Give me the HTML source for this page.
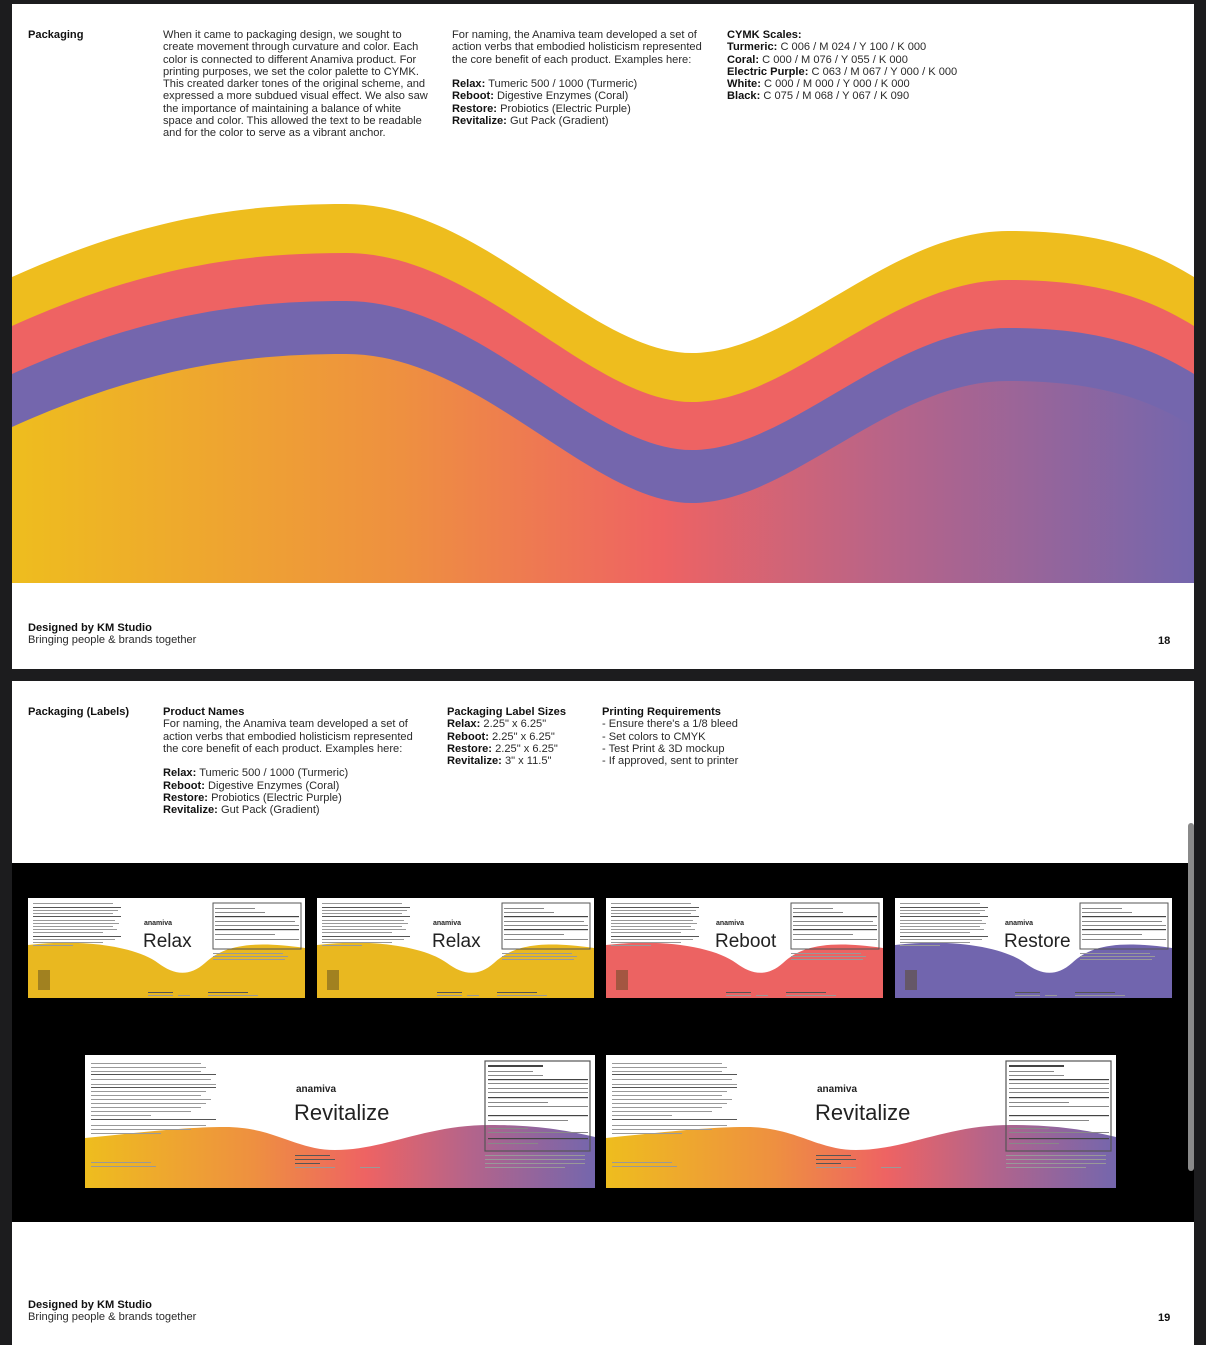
<!DOCTYPE html>
<html><head><meta charset="utf-8">
<style>
html,body{margin:0;padding:0;}
body{width:1206px;height:1345px;background:#1c1c1e;position:relative;overflow:hidden;font-family:"Liberation Sans",Arial,sans-serif;color:#222;}
.page{position:absolute;left:12px;width:1182px;background:#fff;}
.t{position:absolute;font-size:11.1px;line-height:12.3px;color:#2a2a2a;white-space:nowrap;}
.t b{color:#111;}
</style></head><body>
<svg width="0" height="0" style="position:absolute">
<defs>
<linearGradient id="g1" x1="0" x2="1" y1="0" y2="0">
<stop offset="0" stop-color="#eebd1e"/><stop offset="0.33" stop-color="#ee9040"/><stop offset="0.55" stop-color="#ee6363"/><stop offset="0.75" stop-color="#b5648a"/><stop offset="1" stop-color="#7466ad"/>
</linearGradient>
<g id="small">
<rect x="0" y="0" width="277" height="100" fill="#fff"/>
<path d="M0 47 C60 40,110 50,130 65 C145 76,160 80,177 65 C195 48,222 42,277 50 L277 100 L0 100Z" fill="currentColor"/>
<g fill="#999">
<rect x="5" y="5" width="80" height="1"/><rect x="5" y="9" width="88" height="1" fill="#555"/>
<rect x="5" y="12" width="85" height="1"/><rect x="5" y="15" width="80" height="1"/><rect x="5" y="18" width="88" height="1" fill="#555"/>
<rect x="5" y="22" width="82" height="1"/><rect x="5" y="25" width="86" height="1"/><rect x="5" y="28" width="80" height="1"/><rect x="5" y="31" width="84" height="1"/><rect x="5" y="34" width="70" height="1"/>
<rect x="5" y="38" width="88" height="1" fill="#555"/><rect x="5" y="41" width="82" height="1"/><rect x="5" y="44" width="70" height="1"/><rect x="5" y="47" width="40" height="1"/>
<rect x="185" y="55" width="70" height="1"/><rect x="185" y="58" width="75" height="1"/><rect x="185" y="61" width="72" height="1"/>
<rect x="180" y="97" width="50" height="1"/><rect x="120" y="94" width="25" height="1" fill="#555"/><rect x="120" y="97" width="25" height="1"/><rect x="150" y="97" width="12" height="1"/><rect x="180" y="94" width="40" height="1" fill="#555"/>
</g>
<rect x="185" y="5" width="88" height="46" fill="none" stroke="#555" stroke-width="1"/>
<g fill="#888"><rect x="187" y="10" width="40" height="1"/><rect x="187" y="14" width="50" height="1"/><rect x="187" y="18" width="84" height="1.2" fill="#444"/><rect x="187" y="23" width="80" height="1"/><rect x="187" y="27" width="84" height="1"/><rect x="187" y="31" width="84" height="1.2" fill="#444"/><rect x="187" y="36" width="60" height="1"/><rect x="187" y="41" width="84" height="1"/></g>
<rect x="10" y="72" width="12" height="20" fill="#5a4a20" opacity="0.5"/>
</g>
<g id="big">
<rect x="0" y="0" width="510" height="133" fill="#fff"/>
<path d="M0 83 C50 78,100 72,140 72 C190 72,210 95,250 95 C300 95,340 70,405 70 C450 70,480 75,510 82 L510 133 L0 133Z" fill="url(#g1)"/>
<g fill="#999">
<rect x="6" y="8" width="110" height="1"/><rect x="6" y="12" width="115" height="1"/><rect x="6" y="16" width="110" height="1"/><rect x="6" y="19" width="125" height="1" fill="#555"/>
<rect x="6" y="24" width="120" height="1"/><rect x="6" y="29" width="125" height="1"/><rect x="6" y="32" width="125" height="1" fill="#555"/>
<rect x="6" y="36" width="115" height="1"/><rect x="6" y="40" width="110" height="1"/><rect x="6" y="44" width="120" height="1"/><rect x="6" y="48" width="115" height="1"/><rect x="6" y="52" width="110" height="1"/><rect x="6" y="56" width="100" height="1"/><rect x="6" y="60" width="60" height="1"/>
<rect x="6" y="64" width="125" height="1" fill="#555"/><rect x="6" y="70" width="115" height="1"/><rect x="6" y="74" width="100" height="1"/><rect x="6" y="78" width="70" height="1"/>
<rect x="6" y="107" width="60" height="1"/><rect x="6" y="111" width="65" height="1"/>
<rect x="210" y="100" width="35" height="1" fill="#555"/><rect x="210" y="104" width="40" height="1" fill="#555"/><rect x="210" y="108" width="25" height="1" fill="#555"/><rect x="210" y="112" width="40" height="1"/><rect x="275" y="112" width="20" height="1"/>
<rect x="400" y="100" width="100" height="1"/><rect x="400" y="104" width="100" height="1"/><rect x="400" y="108" width="100" height="1"/><rect x="400" y="112" width="80" height="1"/>
</g>
<rect x="400" y="6" width="105" height="90" fill="none" stroke="#555" stroke-width="1.2"/>
<g fill="#888"><rect x="403" y="10" width="55" height="2" fill="#444"/><rect x="403" y="16" width="45" height="1"/><rect x="403" y="20" width="55" height="1"/><rect x="403" y="24" width="100" height="1.2" fill="#444"/><rect x="403" y="28" width="100" height="1"/><rect x="403" y="33" width="100" height="1"/><rect x="403" y="37" width="100" height="1"/><rect x="403" y="42" width="100" height="1.2" fill="#444"/><rect x="403" y="47" width="60" height="1"/><rect x="403" y="51" width="100" height="1"/><rect x="403" y="60" width="100" height="1.2" fill="#444"/><rect x="403" y="65" width="80" height="1"/><rect x="403" y="73" width="40" height="1"/><rect x="403" y="77" width="100" height="1"/><rect x="403" y="83" width="100" height="1.2" fill="#444"/><rect x="403" y="88" width="50" height="1"/></g>
</g>
</defs></svg>

<!-- PAGE 1 -->
<div class="page" style="top:4px;height:665px;">
<svg width="1182" height="665" style="position:absolute;left:0;top:0">
<g transform="translate(-12,-4)">
<clipPath id="cp"><rect x="12" y="0" width="1182" height="583"/></clipPath>
<g clip-path="url(#cp)">
<path id="w" d="M12 277 C150 215,250 204,346 204 C480 204,590 353,692 353 C790 353,890 231,1008 231 C1100 231,1150 250,1194 277 L1194 800 L12 800Z" fill="#eebd1e"/>
<use href="#w" y="49" fill="#ee6363"/>
<path transform="translate(0,49)" d="M12 277 C150 215,250 204,346 204 C480 204,590 353,692 353 C790 353,890 231,1008 231 C1100 231,1150 250,1194 277 L1194 800 L12 800Z" fill="#ee6363"/>
<path transform="translate(0,97)" d="M12 277 C150 215,250 204,346 204 C480 204,590 353,692 353 C790 353,890 231,1008 231 C1100 231,1150 250,1194 277 L1194 800 L12 800Z" fill="#7466ad"/>
<linearGradient id="g2" gradientUnits="userSpaceOnUse" x1="12" x2="1194" y1="0" y2="0">
<stop offset="0" stop-color="#eebd1e"/><stop offset="0.33" stop-color="#ee9040"/><stop offset="0.55" stop-color="#ee6363"/><stop offset="0.75" stop-color="#b5648a"/><stop offset="1" stop-color="#7466ad"/>
</linearGradient>
<path transform="translate(0,150)" d="M12 277 C150 215,250 204,346 204 C480 204,590 353,692 353 C790 353,890 231,1008 231 C1100 231,1150 250,1194 277 L1194 800 L12 800Z" fill="url(#g2)"/>
</g></g></svg>
</div>
<div class="t" style="left:28px;top:29px;"><b>Packaging</b></div>
<div class="t" style="left:163px;top:29px;">When it came to packaging design, we sought to<br>create movement through curvature and color. Each<br>color is connected to different Anamiva product. For<br>printing purposes, we set the color palette to CYMK.<br>This created darker tones of the original scheme, and<br>expressed a more subdued visual effect. We also saw<br>the importance of maintaining a balance of white<br>space and color. This allowed the text to be readable<br>and for the color to serve as a vibrant anchor.</div>
<div class="t" style="left:452px;top:29px;">For naming, the Anamiva team developed a set of<br>action verbs that embodied holisticism represented<br>the core benefit of each product. Examples here:<br><br><b>Relax:</b> Tumeric 500 / 1000 (Turmeric)<br><b>Reboot:</b> Digestive Enzymes (Coral)<br><b>Restore:</b> Probiotics (Electric Purple)<br><b>Revitalize:</b> Gut Pack (Gradient)</div>
<div class="t" style="left:727px;top:29px;"><b>CYMK Scales:</b><br><b>Turmeric:</b> C 006 / M 024 / Y 100 / K 000<br><b>Coral:</b> C 000 / M 076 / Y 055 / K 000<br><b>Electric Purple:</b> C 063 / M 067 / Y 000 / K 000<br><b>White:</b> C 000 / M 000 / Y 000 / K 000<br><b>Black:</b> C 075 / M 068 / Y 067 / K 090</div>
<div class="t" style="left:28px;top:622px;"><b>Designed by KM Studio</b><br>Bringing people &amp; brands together</div>
<div class="t" style="left:1158px;top:635px;"><b>18</b></div>

<!-- PAGE 2 -->
<div class="page" style="top:681px;height:664px;"></div>
<div style="position:absolute;left:12px;top:863px;width:1182px;height:359px;background:#000;"></div>
<div style="position:absolute;left:1188px;top:823px;width:6px;height:348px;background:#8a8a8a;border-radius:3px;"></div>
<svg width="1206" height="1345" style="position:absolute;left:0;top:0" font-family="Liberation Sans, Arial, sans-serif">
<use href="#small" x="28" y="898" style="color:#e9b820"/>
<use href="#small" x="317" y="898" style="color:#e9b820"/>
<use href="#small" x="606" y="898" style="color:#ec6362"/>
<use href="#small" x="895" y="898" style="color:#7165ae"/>
<g fill="#222">
<text x="144" y="925" font-size="7" font-weight="bold">anamiva</text><text x="143" y="947" font-size="19">Relax</text>
<text x="433" y="925" font-size="7" font-weight="bold">anamiva</text><text x="432" y="947" font-size="19">Relax</text>
<text x="716" y="925" font-size="7" font-weight="bold">anamiva</text><text x="715" y="947" font-size="19">Reboot</text>
<text x="1005" y="925" font-size="7" font-weight="bold">anamiva</text><text x="1004" y="947" font-size="19">Restore</text>
</g>
<use href="#big" x="85" y="1055"/>
<use href="#big" x="606" y="1055"/>
<g fill="#222">
<text x="296" y="1092" font-size="10" font-weight="bold">anamiva</text><text x="294" y="1120" font-size="22">Revitalize</text>
<text x="817" y="1092" font-size="10" font-weight="bold">anamiva</text><text x="815" y="1120" font-size="22">Revitalize</text>
</g>
</svg>
<div class="t" style="left:28px;top:706px;"><b>Packaging (Labels)</b></div>
<div class="t" style="left:163px;top:706px;"><b>Product Names</b><br>For naming, the Anamiva team developed a set of<br>action verbs that embodied holisticism represented<br>the core benefit of each product. Examples here:<br><br><b>Relax:</b> Tumeric 500 / 1000 (Turmeric)<br><b>Reboot:</b> Digestive Enzymes (Coral)<br><b>Restore:</b> Probiotics (Electric Purple)<br><b>Revitalize:</b> Gut Pack (Gradient)</div>
<div class="t" style="left:447px;top:706px;"><b>Packaging Label Sizes</b><br><b>Relax:</b> 2.25" x 6.25"<br><b>Reboot:</b> 2.25" x 6.25"<br><b>Restore:</b> 2.25" x 6.25"<br><b>Revitalize:</b> 3" x 11.5"</div>
<div class="t" style="left:602px;top:706px;"><b>Printing Requirements</b><br>- Ensure there's a 1/8 bleed<br>- Set colors to CMYK<br>- Test Print &amp; 3D mockup<br>- If approved, sent to printer</div>
<div class="t" style="left:28px;top:1299px;"><b>Designed by KM Studio</b><br>Bringing people &amp; brands together</div>
<div class="t" style="left:1158px;top:1312px;"><b>19</b></div>
</body></html>
